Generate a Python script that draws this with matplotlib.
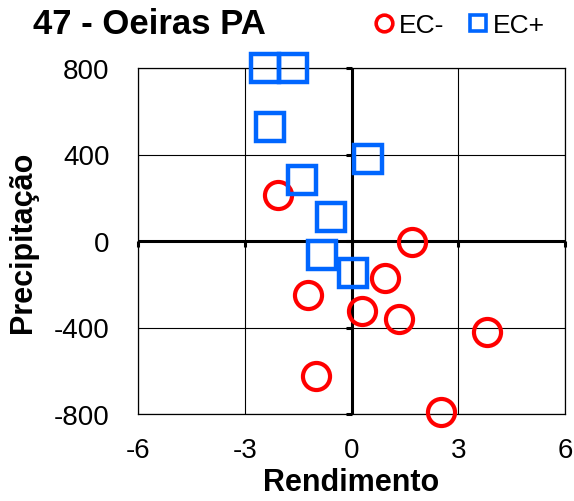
import matplotlib
matplotlib.use("Agg")
import matplotlib.pyplot as plt
import matplotlib.markers as mmarkers
from matplotlib.lines import Line2D

plt.rcParams['font.family'] = ['Liberation Sans', 'DejaVu Sans']

# yield anomaly (x) vs rainfall anomaly (y), split by EC sign
ec_minus_x = [-2.06, 1.69, 0.94, -1.23, 0.29, 1.34, 3.80, -1.00, 2.51]
ec_minus_y = [214, -6, -171, -248, -322, -361, -420, -623, -793]
ec_plus_x = [-2.43, -1.63, -2.29, 0.45, -1.40, -0.58, -0.82, 0.05]
ec_plus_y = [800, 800, 526, 380, 284, 110, -63, -148]

x_ticks = [-6, -3, 0, 3, 6]
y_ticks = [-800, -400, 0, 400, 800]

RED = '#FF0000'
BLUE = '#0066FF'

fig = plt.figure(figsize=(5.74, 5.02), dpi=100)
ax = fig.add_axes([138 / 574, 1 - 415 / 502, 427 / 574, 346 / 502])

ax.set_xlim(-6, 6)
ax.set_ylim(-800, 800)
ax.set_xticks(x_ticks)
ax.set_yticks(y_ticks)
ax.set_xticklabels([str(t) for t in x_ticks])
ax.set_yticklabels([str(t) for t in y_ticks])
ax.tick_params(length=0, labelsize=20, colors='black')
ax.tick_params(axis='y', pad=20.5)
ax.tick_params(axis='x', pad=16.5)

ax.grid(True, color='black', linewidth=0.8)
ax.set_axisbelow(True)
for s in ax.spines.values():
    s.set_linewidth(0.9)
    s.set_color('black')

# thick zero axes with small tick marks
ax.axhline(0, color='black', linewidth=2.2, zorder=1.5)
ax.axvline(0, color='black', linewidth=2.2, zorder=1.5)
ax.plot([0] * len(y_ticks), y_ticks, linestyle='none', marker=mmarkers.TICKLEFT,
        markersize=4, markeredgewidth=2.2, color='black', clip_on=False, zorder=1.5)
ax.plot(x_ticks, [0] * len(x_ticks), linestyle='none', marker=mmarkers.TICKDOWN,
        markersize=4, markeredgewidth=2.2, color='black', clip_on=False, zorder=1.5)

ax.plot(ec_minus_x, ec_minus_y, linestyle='none', marker='o', markersize=19.5,
        markerfacecolor='none', markeredgecolor=RED, markeredgewidth=3.0,
        clip_on=False, zorder=3)
ax.plot(ec_plus_x, ec_plus_y, linestyle='none', marker='s', markersize=19.5,
        markerfacecolor='none', markeredgecolor=BLUE, markeredgewidth=3.2,
        clip_on=False, zorder=4)

ax.set_xlabel('Rendimento', fontsize=22, fontweight='bold', labelpad=3)
ax.set_ylabel('Precipitação', fontsize=22, fontweight='bold')
ax.yaxis.set_label_coords(-0.234, 0.5)

fig.text(33 / 574, 1 - 25 / 502, '47 - Oeiras PA', fontsize=25, fontweight='bold',
         ha='left', va='center')

handles = [
    Line2D([], [], linestyle='none', marker='o', markersize=12, markerfacecolor='none',
           markeredgecolor=RED, markeredgewidth=2.6),
    Line2D([], [], linestyle='none', marker='s', markersize=12, markerfacecolor='none',
           markeredgecolor=BLUE, markeredgewidth=2.6),
]
fig.legend(handles, ['EC-', 'EC+'], loc='center', ncol=2, frameon=False,
           bbox_to_anchor=(459 / 574, 1 - 26 / 502), fontsize=19,
           handlelength=0.8, handletextpad=0.15, columnspacing=0.9, borderpad=0)

fig.savefig('out.png', dpi=100)
